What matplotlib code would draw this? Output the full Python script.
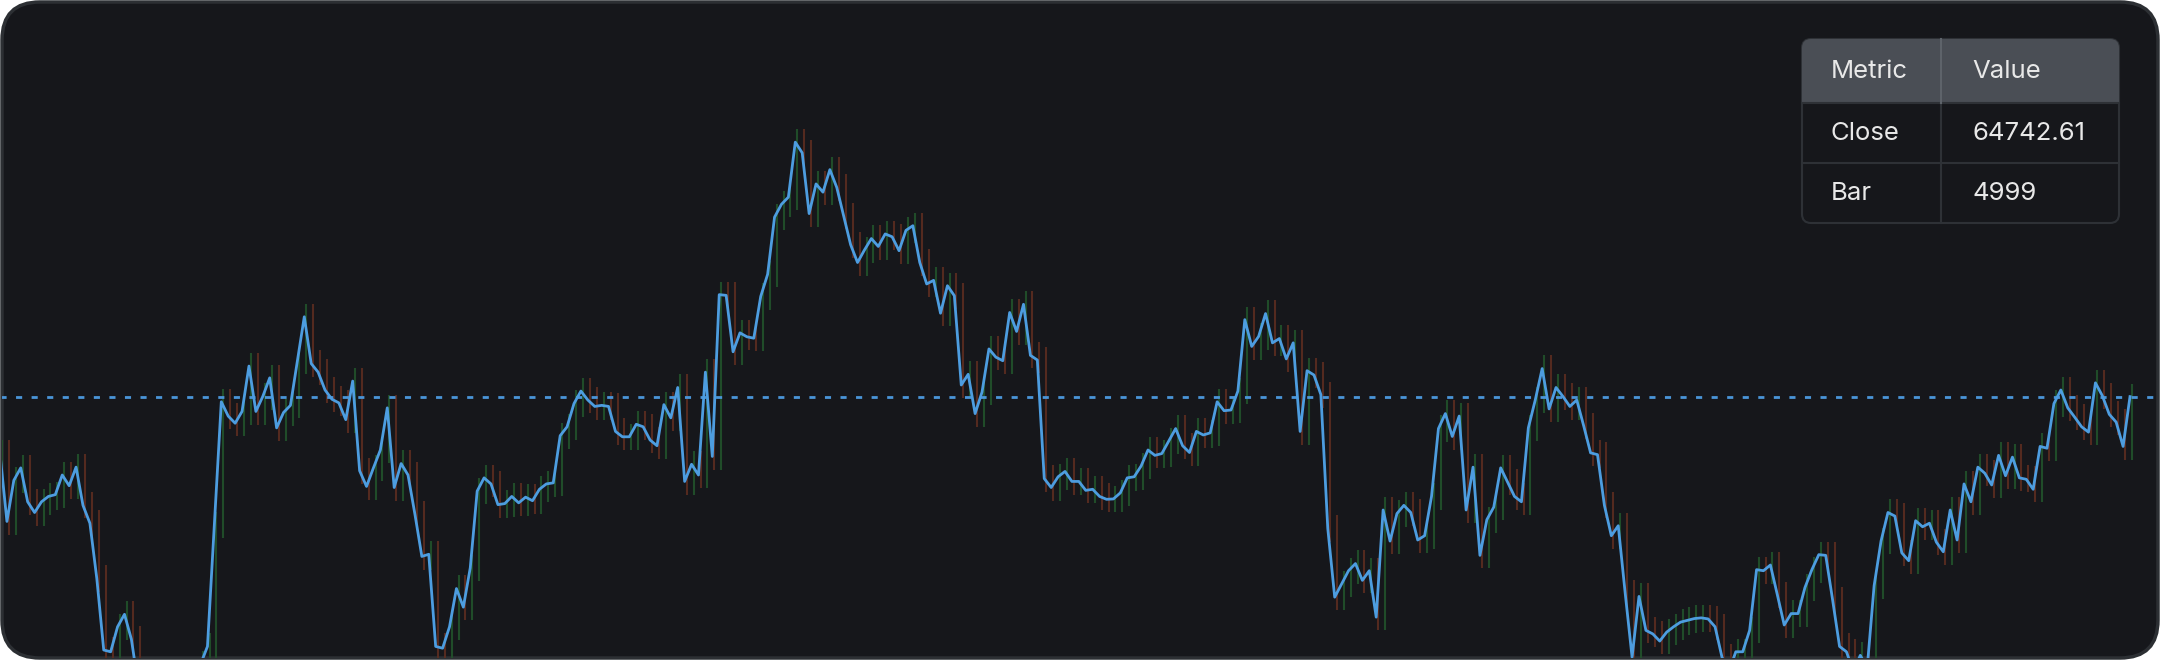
import numpy as np
import matplotlib.pyplot as plt
from matplotlib.patches import FancyBboxPatch, Rectangle

# closes, oldest first
close_a = [62350, 59500, 61225, 61750, 60325, 59875, 60325, 60550, 60625, 61450,
           61000, 61780, 60175, 59425, 57100, 54100, 54025, 55075, 55600, 54550,
           52600, 51700, 51400, 50950, 51250, 50800, 51400, 51850, 52600,
           53500, 54250, 59350, 64525, 63925, 63625, 64120, 66025, 64120, 64750,
           65530, 63430, 64075, 64375, 66250, 68095, 66130, 65770, 65020, 64630,
           64480, 63775, 65395, 61630, 60970, 61750, 62500, 64270, 60925, 61930,
           61450, 59800, 58030, 58120, 54250, 54175, 55075, 56680, 55900, 57550,
           60775, 61330, 61075, 60205, 60250, 60550, 60280, 60520, 60370]
close_b = [60850, 61075, 61120, 63100, 63475, 64450, 64975, 64600, 64330, 64375,
           64330, 63280, 63055, 63055, 63580, 63475, 62920, 62680, 64405, 63850,
           65125, 61180, 61900, 61450, 65770, 62230, 69025, 68995, 66625, 67420,
           67255, 67195, 68950, 69880, 72280, 72820, 73120, 75430, 74980, 72430,
           73675, 73330, 74275, 73525, 72325, 71125, 70375, 70900, 71380, 71050,
           71575, 71455, 70870, 71725, 71920, 70375, 69475, 69625, 68245, 69400,
           68980, 65230, 65680, 64030, 64930, 66745, 66400, 66250, 68275, 67480,
           68620, 66475, 66280, 61300, 60925]
close_c = [61375, 61600, 61180, 61180, 60805, 60850, 60550, 60430, 60445, 60700,
           61330, 61375, 61825, 62500, 62275, 62350, 62875, 63400, 62680, 62395,
           63280, 63130, 63220, 64525, 64150, 64180, 64975, 67975, 66850, 67270,
           68230, 67000, 67180, 66325, 67000, 63280, 65830, 65650, 64825, 59200,
           56320, 56875, 57430, 57730, 57025, 57430, 55480, 59980, 58675, 59830,
           60175, 59875, 58720, 58900, 60550, 63400, 64030, 63070, 63925, 59980,
           61780, 58075, 59575, 60100, 61750, 61150, 60550, 60325, 63430, 64600,
           65920, 64225, 65125, 64750, 64330, 64600, 63520]
close_d = [62380, 62305, 60175, 58900, 59320, 56500, 53800, 56350, 54925, 54775,
           54475, 54850, 55075, 55270, 55345, 55420, 55450, 55405, 55075, 53800,
           53200, 54025, 54025, 54925, 57475, 57430, 57670, 56425, 55150, 55630,
           55630, 56725, 57475, 58105, 58075, 56200, 54250, 54025, 53200, 53875,
           53350, 56800, 58675, 59875, 59725, 58180, 57850, 59530, 59275, 59425,
           58630, 58225, 59980, 58720, 61075, 60325, 61780, 61525, 61030, 62275,
           61420, 62200, 61330, 61270, 60850, 62650, 62575, 64450, 65020, 64270,
           63880, 63475, 63250, 65320, 64780, 64000, 63670, 62650, 64742.61]

close = np.array(close_a + close_b + close_c + close_d)
n = len(close)
last_bar = 4999
bars = np.arange(last_bar - n + 1, last_bar + 1)

table_rows = [["Metric", "Value"], ["Close", f"{close[-1]:.2f}"], ["Bar", str(last_bar)]]

W, H = 2160, 660
fig = plt.figure(figsize=(W / 100, H / 100), dpi=100, facecolor="white")

# background layer in pixel coords (y down)
bg = fig.add_axes([0, 0, 1, 1], zorder=0)
bg.set_xlim(0, W)
bg.set_ylim(H, 0)
bg.axis("off")
panel = FancyBboxPatch((2, 2), W - 4, H - 4, boxstyle="round,pad=0,rounding_size=38",
                       facecolor="#16171b", edgecolor="#2c2f33", linewidth=2.5)
bg.add_patch(panel)

ax = fig.add_axes([0, 0, 1, 1], zorder=1)
ax.set_facecolor("none")
ax.axis("off")
x0 = bars[0]
ax.set_xlim(x0, x0 + (n - 1) * W / 2130.0)
ax.set_ylim(53680, 81400)

# faint wicks around consecutive closes
prev = np.concatenate([[close[0]], close[:-1]])
up = close >= prev
cols = np.where(up, "#22522b", "#5c2d20")
wk = ax.vlines(bars + 0.3, np.minimum(prev, close) - 550, np.maximum(prev, close) + 550,
               colors=cols, linewidth=1.5, alpha=0.9)
wk.set_clip_path(panel)

hl = ax.axhline(close[-1], color="#4a95d8", linewidth=2, linestyle=(0, (2.2, 3.4)))
hl.set_clip_path(panel)
line, = ax.plot(bars, close, color="#4d9de0", linewidth=2.0)
line.set_clip_path(panel)

# table top right, on its own layer
tb = fig.add_axes([0, 0, 1, 1], zorder=2)
tb.set_xlim(0, W)
tb.set_ylim(H, 0)
tb.axis("off")
tx0, tx1, tmid = 1802, 2119, 1941
rows_y = [39, 103, 163, 223]
tbl = FancyBboxPatch((tx0, rows_y[0]), tx1 - tx0, rows_y[-1] - rows_y[0],
                     boxstyle="round,pad=0,rounding_size=9",
                     facecolor="#16171b", edgecolor="#2e3136", linewidth=1.5)
tb.add_patch(tbl)
hdr = Rectangle((tx0, rows_y[0]), tx1 - tx0, rows_y[1] - rows_y[0],
                facecolor="#4a4e55", edgecolor="none")
tb.add_patch(hdr)
hdr.set_clip_path(tbl)
for yy in rows_y[1:3]:
    tb.plot([tx0, tx1], [yy, yy], color="#2e3136", linewidth=1.5)
tb.plot([tmid, tmid], [rows_y[1], rows_y[-1]], color="#2e3136", linewidth=1.5)
tb.plot([tmid, tmid], [rows_y[0], rows_y[1]], color="#5e636a", linewidth=1.5)
for i, (a, v) in enumerate(table_rows):
    yc = (rows_y[i] + rows_y[i + 1]) / 2
    tb.text(1831, yc, a, color="#e8e8e8", fontsize=18.5, family="Inter", va="center")
    tb.text(1972, yc, v, color="#e8e8e8", fontsize=18.5, family="Inter", va="center")

fig.savefig("out.png", dpi=100, facecolor="white")
